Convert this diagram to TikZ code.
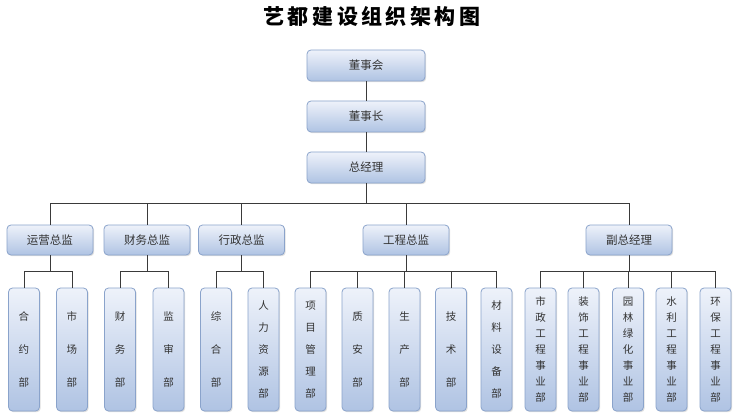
\documentclass[tikz,border=0pt]{standalone}
\usepackage{fontspec}
\setmainfont{Noto Sans CJK SC}
\usetikzlibrary{shadows}
\definecolor{boxtop}{HTML}{EEF2FA}
\definecolor{boxbot}{HTML}{AFC3E3}
\definecolor{boxline}{HTML}{8AA3CB}
\definecolor{txt}{HTML}{333333}
\definecolor{wire}{HTML}{3A3A3A}
\tikzset{
  box/.style={draw=boxline, line width=0.8pt, rounded corners=4pt,
    top color=boxtop, bottom color=boxbot, text=txt,
    drop shadow={shadow xshift=1.2pt, shadow yshift=-1.2pt, opacity=0.25},
    inner sep=0pt, align=center},
  topbox/.style={box, minimum width=118pt, minimum height=31pt, font=\fontsize{11.5}{12}\selectfont},
  midbox/.style={box, minimum width=86pt, minimum height=30pt, font=\fontsize{11.5}{12}\selectfont},
  lowbox/.style={box, minimum width=31pt, minimum height=123pt},
  three/.style={font=\fontsize{10.5}{33}\selectfont},
  five/.style={font=\fontsize{10.5}{22}\selectfont},
  seven/.style={font=\fontsize{10.5}{16}\selectfont},
  wirel/.style={draw=wire, line width=0.9pt},
}
\begin{document}
\begin{tikzpicture}[x=1pt,y=-1pt]
\fill[white] (0,0) rectangle (740,420);
\useasboundingbox (0,0) rectangle (740,420);
\node (title) at (372,16) {\fontsize{21}{22}\selectfont\bfseries 艺\hspace{3.5pt}都\hspace{3.5pt}建\hspace{3.5pt}设\hspace{3.5pt}组\hspace{3.5pt}织\hspace{3.5pt}架\hspace{3.5pt}构\hspace{3.5pt}图};

\node[topbox] (dsh) at (366,65.5) {董事会};
\node[topbox] (dsz) at (366,116.5) {董事长};
\node[topbox] (zjl) at (366,167.5) {总经理};

\node[midbox] (yy) at (50,240) {运营总监};
\node[midbox] (cw) at (147,240) {财务总监};
\node[midbox] (xz) at (241.5,240) {行政总监};
\node[midbox] (gc) at (406,240) {工程总监};
\node[midbox] (fz) at (629,240) {副总经理};

\node[lowbox,three] (hy) at (24,349.5) {合\\约\\部};
\node[lowbox,three] (sc) at (72,349.5) {市\\场\\部};
\node[lowbox,three] (cwb) at (120,349.5) {财\\务\\部};
\node[lowbox,three] (js) at (168.5,349.5) {监\\审\\部};
\node[lowbox,three] (zh) at (216,349.5) {综\\合\\部};
\node[lowbox,five] (rl) at (263.5,349.5) {人\\力\\资\\源\\部};
\node[lowbox,five] (xm) at (310.5,349.5) {项\\目\\管\\理\\部};
\node[lowbox,three] (za) at (357.5,349.5) {质\\安\\部};
\node[lowbox,three] (scb) at (404.5,349.5) {生\\产\\部};
\node[lowbox,three] (jsb) at (451,349.5) {技\\术\\部};
\node[lowbox,five] (cl) at (496.5,349.5) {材\\料\\设\\备\\部};
\node[lowbox,seven] (sz) at (540.5,349.5) {市\\政\\工\\程\\事\\业\\部};
\node[lowbox,seven] (zs) at (583.5,349.5) {装\\饰\\工\\程\\事\\业\\部};
\node[lowbox,seven] (yl) at (628,349.5) {园\\林\\绿\\化\\事\\业\\部};
\node[lowbox,seven] (sl) at (671.5,349.5) {水\\利\\工\\程\\事\\业\\部};
\node[lowbox,seven] (hb) at (715.5,349.5) {环\\保\\工\\程\\事\\业\\部};

\coordinate (bus) at (366,203);
\coordinate (b2) at (0,271);

\begin{scope}[on background layer/.style={}]
\draw[wirel] (dsh.south) -- (dsz.north);
\draw[wirel] (dsz.south) -- (zjl.north);
\draw[wirel] (zjl.south) -- (bus);
\draw[wirel] (yy.north) -- (yy.north |- bus) -- (fz.north |- bus) -- (fz.north);
\draw[wirel] (cw.north) -- (cw.north |- bus);
\draw[wirel] (xz.north) -- (xz.north |- bus);
\draw[wirel] (gc.north) -- (gc.north |- bus);

\draw[wirel] (yy.south) -- (yy.south |- b2);
\draw[wirel] (hy.north) -- (hy.north |- b2) -- (sc.north |- b2) -- (sc.north);
\draw[wirel] (cw.south) -- (cw.south |- b2);
\draw[wirel] (cwb.north) -- (cwb.north |- b2) -- (js.north |- b2) -- (js.north);
\draw[wirel] (xz.south) -- (xz.south |- b2);
\draw[wirel] (zh.north) -- (zh.north |- b2) -- (rl.north |- b2) -- (rl.north);
\draw[wirel] (gc.south) -- (gc.south |- b2);
\draw[wirel] (xm.north) -- (xm.north |- b2) -- (cl.north |- b2) -- (cl.north);
\draw[wirel] (za.north) -- (za.north |- b2);
\draw[wirel] (scb.north) -- (scb.north |- b2);
\draw[wirel] (jsb.north) -- (jsb.north |- b2);
\draw[wirel] (fz.south) -- (fz.south |- b2);
\draw[wirel] (sz.north) -- (sz.north |- b2) -- (hb.north |- b2) -- (hb.north);
\draw[wirel] (zs.north) -- (zs.north |- b2);
\draw[wirel] (yl.north) -- (yl.north |- b2);
\draw[wirel] (sl.north) -- (sl.north |- b2);
\end{scope}
\end{tikzpicture}
\end{document}
